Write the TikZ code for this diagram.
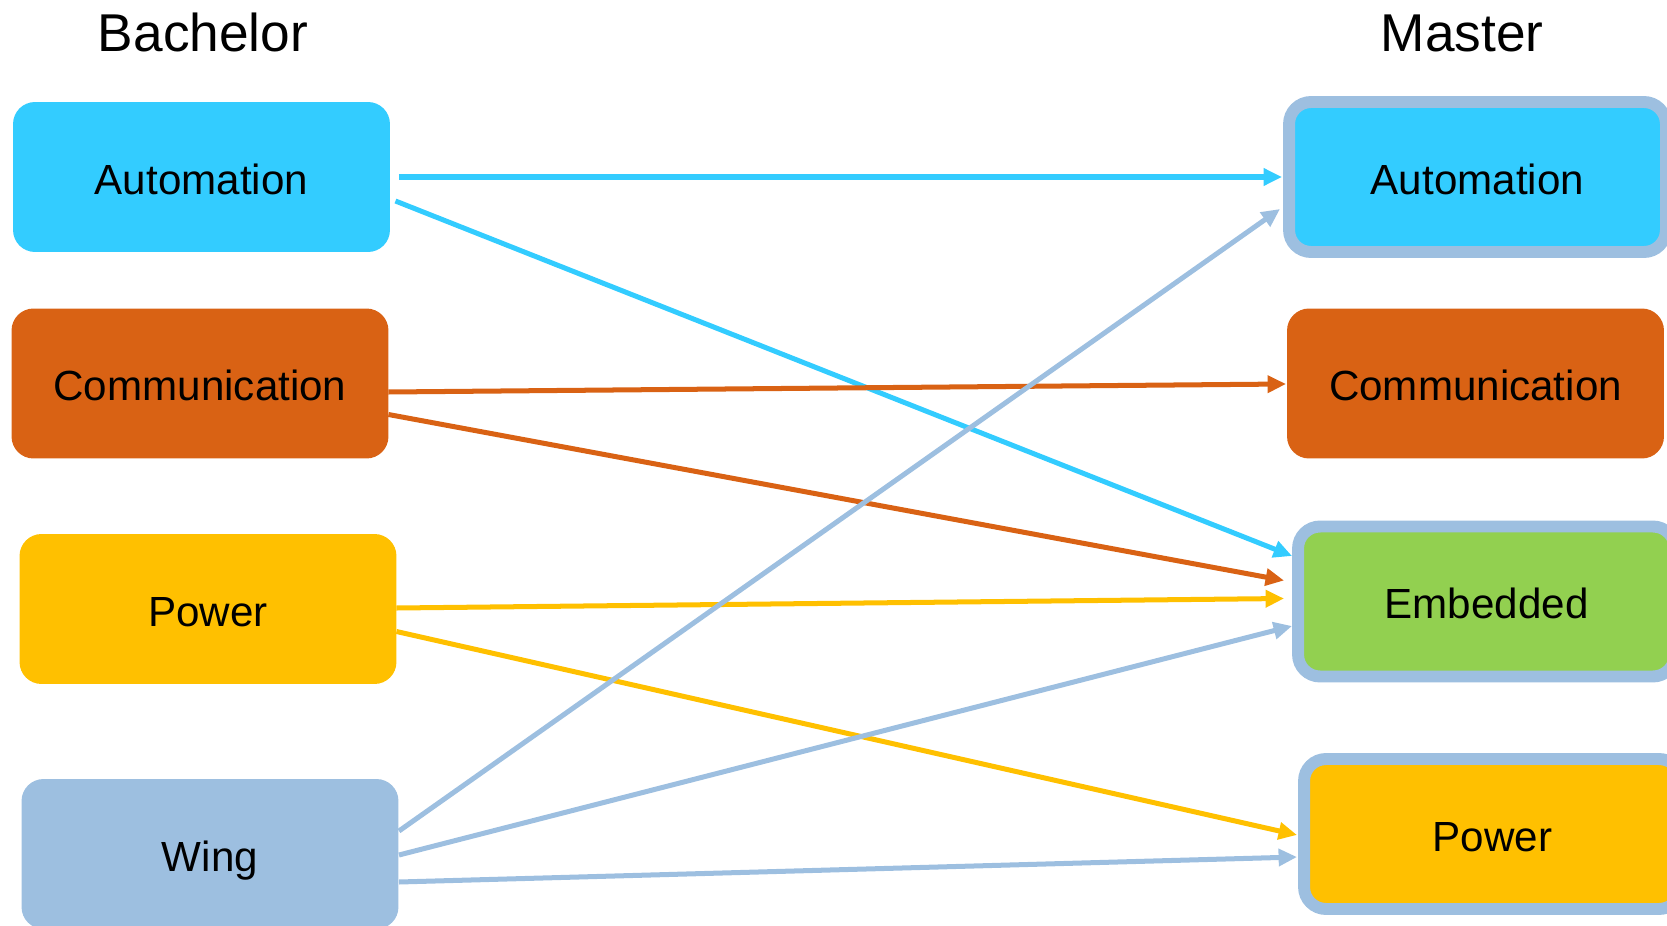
\documentclass[tikz,border=0pt]{standalone}
\usepackage{fontspec}
\setmainfont{Liberation Sans}
\usetikzlibrary{arrows.meta,calc}
\definecolor{autoblue}{HTML}{33CCFF}
\definecolor{commorange}{HTML}{D96214}
\definecolor{poweryellow}{HTML}{FFC000}
\definecolor{embgreen}{HTML}{92D050}
\definecolor{wingblue}{HTML}{9DBFE0}
\begin{document}
\begin{tikzpicture}[x=0.02cm,y=-0.02cm]
\tikzstyle{box}=[rectangle,rounded corners=0.44cm,minimum width=7.54cm,minimum height=3cm,outer sep=0pt,font=\fontsize{24}{29}\selectfont,text height=19.4pt,text depth=0pt]
\tikzstyle{master}=[box,draw=wingblue,line width=6.8pt]
\tikzstyle{title}=[anchor=base,font=\fontsize{30.3}{36}\selectfont]
\tikzstyle{link}=[line width=2.85pt,-{Triangle[length=10.5pt,width=9.5pt]}]
\useasboundingbox (0,0) rectangle (1667,926);
\node[title] (bach) at (203,52) {Bachelor};
\node[title] (mast) at (1462,52) {Master};
\node[box,fill=autoblue] (bA) at (201.5,177) {Automation};
\node[box,fill=commorange] (bC) at (200,383.5) {Communication};
\node[box,fill=poweryellow] (bP) at (208,609) {Power};
\node[box,fill=wingblue] (bW) at (210,854) {Wing};
\node[master,fill=autoblue] (mA) at (1477.5,177) {Automation};
\node[box,fill=commorange] (mC) at (1475.5,383.5) {Communication};
\node[master,fill=embgreen] (mE) at (1486.5,601.5) {Embedded};
\node[master,fill=poweryellow] (mP) at (1492.5,834) {Power};
\draw[link,autoblue] ($(bA.east)+(9,0)$) -- ($(mA.west)+(-7,0)$);
\draw[link,autoblue] ($(bA.east)+(5.5,24)$) -- ($(mE.west)+(-6,-45.5)$);
\draw[link,commorange] ($(bC.east)+(0,8.5)$) -- ($(mC.west)+(-1,0.5)$);
\draw[link,commorange] ($(bC.east)+(0,31)$) -- ($(mE.west)+(-14,-21)$);
\draw[link,poweryellow] ($(bP.east)+(0,-1)$) -- ($(mE.west)+(-14,-3)$);
\draw[link,poweryellow] ($(bP.east)+(0,22.5)$) -- ($(mP.west)+(-7,1)$);
\draw[link,wingblue] ($(bW.east)+(0.5,-23)$) -- ($(mA.west)+(-9,32)$);
\draw[link,wingblue] ($(bW.east)+(0.5,1)$) -- ($(mE.west)+(-6,24.5)$);
\draw[link,wingblue] ($(bW.east)+(0.5,28)$) -- ($(mP.west)+(-7,23)$);
\end{tikzpicture}
\end{document}
